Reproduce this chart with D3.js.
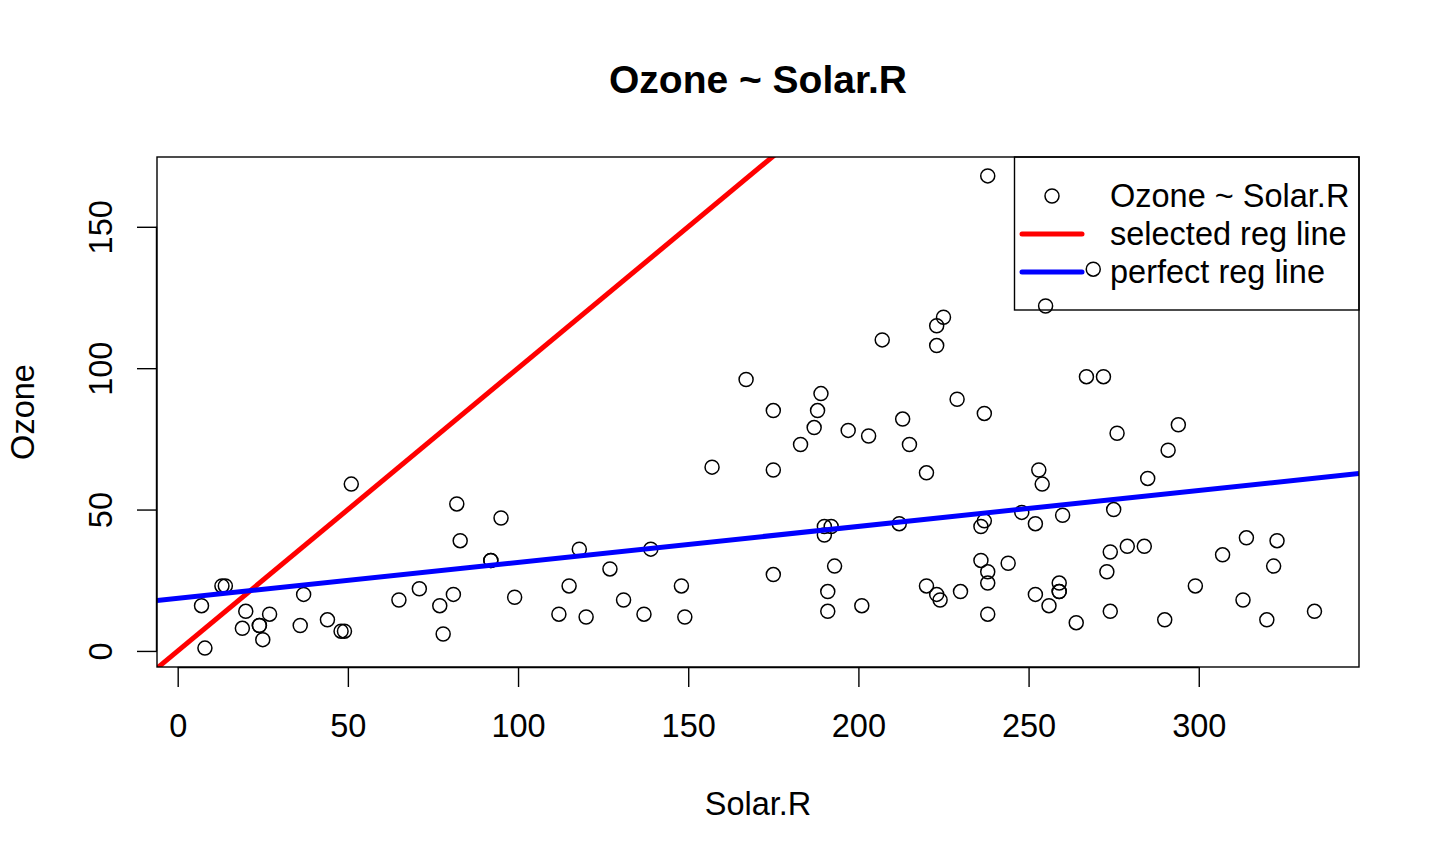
<!DOCTYPE html>
<html>
<head>
<meta charset="utf-8">
<script src="https://cdn.jsdelivr.net/npm/d3@7/dist/d3.min.js"></script>
<style>
  html, body { margin: 0; padding: 0; background: #fff; }
  svg { display: block; font-family: "Liberation Sans", Arial, Helvetica, sans-serif; }
</style>
</head>
<body>
<svg id="chart" width="1440" height="864"></svg>
<script>
// airquality complete cases: Solar.R and Ozone
const solarR = [190,118,149,313,299,99,19,256,290,274,65,334,307,78,322,44,8,320,25,92,13,252,223,279,127,291,323,148,191,284,37,120,137,269,248,236,175,314,276,267,272,175,264,175,48,260,274,285,187,220,7,294,223,81,82,213,275,253,254,83,24,77,255,229,207,192,273,157,71,51,115,244,190,259,36,212,238,215,203,225,237,188,167,197,183,189,95,92,252,220,230,259,236,259,238,24,112,237,224,27,238,201,238,14,139,49,20,193,191,131,223];
const ozone = [41,36,12,18,23,19,8,16,11,14,18,14,34,6,30,11,1,11,4,32,23,45,115,37,29,71,39,23,21,37,20,12,13,135,49,32,64,40,77,97,97,85,10,27,7,48,35,61,79,63,16,80,108,20,52,82,50,64,59,39,9,16,122,89,110,44,28,65,22,59,23,31,44,21,9,45,168,73,76,118,84,85,96,78,73,91,47,32,20,23,21,24,44,21,28,9,13,46,18,13,24,16,13,23,36,7,14,30,14,18,20];
const xTicks = [0, 50, 100, 150, 200, 250, 300];
const yTicks = [0, 50, 100, 150];
const legendLabels = ["Ozone ~ Solar.R", "selected reg line", "perfect reg line"];
const selectedLine = { intercept: 0, slope: 1 };

// least squares fit (perfect reg line)
const n = solarR.length;
const mx = d3.mean(solarR), my = d3.mean(ozone);
let sxy = 0, sxx = 0;
for (let i = 0; i < n; i++) { sxy += (solarR[i]-mx)*(ozone[i]-my); sxx += (solarR[i]-mx)**2; }
const fitSlope = sxy / sxx, fitIntercept = my - fitSlope * mx;

const svg = d3.select("#chart");
const L = 157, R = 1359, T = 157, B = 667;
const font = 32.5;

function ext(arr) { const [a, b] = d3.extent(arr); const d = (b - a) * 0.04; return [a - d, b + d]; }
const x = d3.scaleLinear().domain(ext(solarR)).range([L, R]);
const y = d3.scaleLinear().domain(ext(ozone)).range([B, T]);

svg.append("defs").append("clipPath").attr("id", "clip")
  .append("rect").attr("x", L).attr("y", T).attr("width", R - L).attr("height", B - T);

// points
svg.append("g").selectAll("circle").data(solarR).join("circle")
  .attr("cx", (d) => x(d)).attr("cy", (d, i) => y(ozone[i])).attr("r", 7)
  .attr("fill", "none").attr("stroke", "#000").attr("stroke-width", 1.5);

// lines
const [x0, x1] = x.domain();
const lines = [
  { a: selectedLine.intercept, b: selectedLine.slope, color: "#ff0000" },
  { a: fitIntercept, b: fitSlope, color: "#0000ff" }
];
svg.append("g").attr("clip-path", "url(#clip)").selectAll("line").data(lines).join("line")
  .attr("x1", x(x0)).attr("x2", x(x1))
  .attr("y1", (d) => y(d.a + d.b * x0)).attr("y2", (d) => y(d.a + d.b * x1))
  .attr("stroke", (d) => d.color).attr("stroke-width", 5);

// box
svg.append("rect").attr("x", L).attr("y", T).attr("width", R - L).attr("height", B - T)
  .attr("fill", "none").attr("stroke", "#000").attr("stroke-width", 1.4);

// x axis
const xa = svg.append("g").attr("transform", `translate(0,${B})`)
  .call(d3.axisBottom(x).tickValues(xTicks).tickSize(20).tickPadding(0).tickFormat(d3.format("d")));
xa.select(".domain").attr("d", `M${x(0)},0.5H${x(300)}`).attr("stroke-width", 1.4);
xa.selectAll(".tick line").attr("stroke-width", 1.4);
xa.selectAll(".tick text").attr("y", 70).attr("dy", null).attr("font-size", font)
  .attr("font-family", "Liberation Sans, Arial, sans-serif").attr("fill", "#000");

// y axis
const ya = svg.append("g").attr("transform", `translate(${L},0)`)
  .call(d3.axisLeft(y).tickValues(yTicks).tickSize(20).tickPadding(0).tickFormat(d3.format("d")));
ya.select(".domain").attr("d", `M-0.5,${y(0)}V${y(150)}`).attr("stroke-width", 1.4);
ya.selectAll(".tick line").attr("stroke-width", 1.4);
ya.selectAll(".tick text").attr("x", null).attr("dy", null)
  .attr("transform", "translate(-45,0) rotate(-90)").attr("text-anchor", "middle")
  .attr("font-size", font).attr("font-family", "Liberation Sans, Arial, sans-serif").attr("fill", "#000");

// titles
svg.append("text").attr("x", (L + R) / 2).attr("y", 93).attr("text-anchor", "middle")
  .attr("font-size", 39).attr("font-weight", "bold").text("Ozone ~ Solar.R");
svg.append("text").attr("x", (L + R) / 2).attr("y", 815).attr("text-anchor", "middle")
  .attr("font-size", font).text("Solar.R");
svg.append("text").attr("transform", `translate(34,${(T + B) / 2}) rotate(-90)`).attr("text-anchor", "middle")
  .attr("font-size", font).text("Ozone");

// legend
const lg = svg.append("g");
lg.append("rect").attr("x", 1014.5).attr("y", T).attr("width", R - 1014.5).attr("height", 153)
  .attr("fill", "none").attr("stroke", "#000").attr("stroke-width", 1.4);
const rowY = (i) => 196 + i * 38;
lg.append("circle").attr("cx", 1052).attr("cy", rowY(0)).attr("r", 7)
  .attr("fill", "none").attr("stroke", "#000").attr("stroke-width", 1.5);
lg.selectAll("line.leg").data(lines).join("line").attr("class", "leg")
  .attr("x1", 1022).attr("x2", 1082).attr("y1", (d, i) => rowY(i + 1)).attr("y2", (d, i) => rowY(i + 1))
  .attr("stroke", (d) => d.color).attr("stroke-width", 5).attr("stroke-linecap", "round");
lg.selectAll("text").data(legendLabels).join("text")
  .attr("x", 1110).attr("y", (d, i) => rowY(i) + 11).attr("font-size", font).text((d) => d);
</script>
</body>
</html>
